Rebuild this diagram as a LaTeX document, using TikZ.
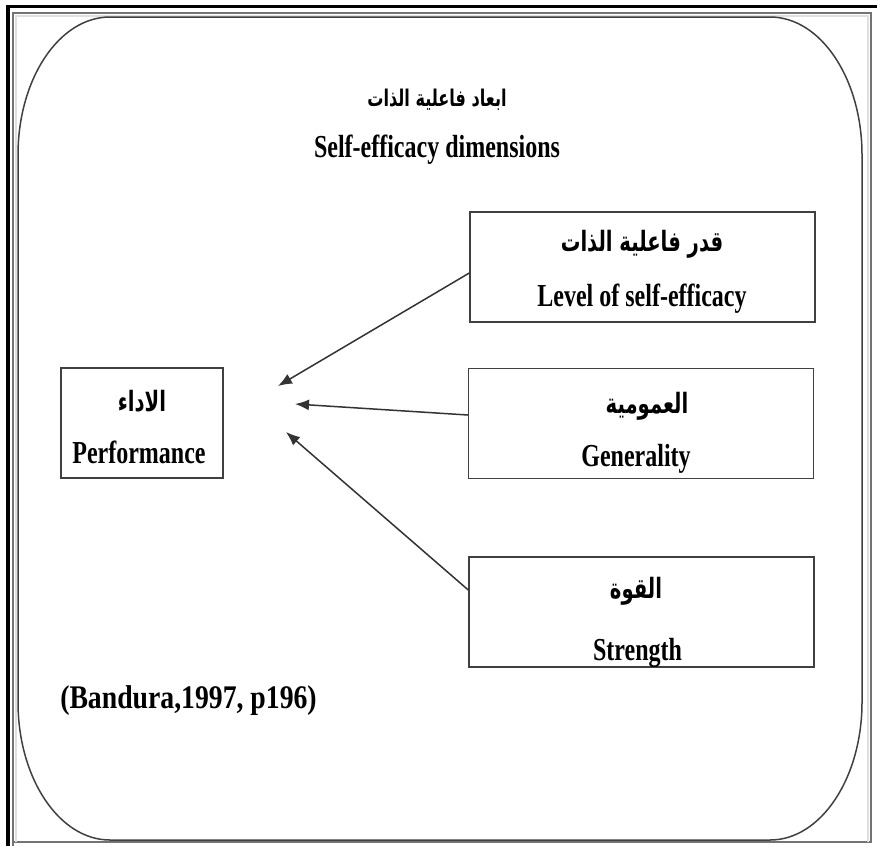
\documentclass[tikz,border=0pt]{standalone}
\usepackage{fontspec}
\setmainfont{Liberation Serif}[FakeStretch=0.75]
\newfontfamily\citefont{Liberation Serif}[FakeStretch=0.84]
\newfontfamily\arabicfont[Script=Arabic,FakeStretch=0.7]{DejaVu Sans}
\TeXXeTstate=1
\usetikzlibrary{arrows.meta}

\begin{document}
\begin{tikzpicture}[x=1pt,y=-1pt,
  dimbox/.style={draw=black!75,line width=1.4pt,minimum width=345pt,minimum height=110pt,inner sep=0pt},
  entxt/.style={font=\fontsize{32}{36}\selectfont\bfseries,anchor=base,inner sep=0pt},
  artxt/.style={font=\arabicfont\fontsize{28}{32}\selectfont\bfseries,inner sep=0pt},
  link/.style={draw=black!80,line width=1.5pt,-{Latex[length=14pt,width=11pt]}}
]
\useasboundingbox (0,0) rectangle (877,846);

% page border
\draw[black!55,line width=1.5pt] (13,846) -- (13,13) -- (871,13) -- (871,842) -- (13,842);
\draw[black!12,line width=2pt] (16,842) -- (16,16) -- (868,16) -- (868,842);
\draw[black,line width=3.5pt] (8,846) -- (8,6.5) -- (877,6.5);

% rounded frame with elliptical corners
\draw[black!75,line width=1.5pt]
  (18,155) .. controls (18,78.8) and (59.2,17) .. (110,17)
  -- (770,17) .. controls (820.8,17) and (862,78.8) .. (862,155)
  -- (862,702) .. controls (862,778.2) and (820.8,840) .. (770,840)
  -- (110,840) .. controls (59.2,840) and (18,778.2) .. (18,702) -- cycle;

% title
\node[artxt,font=\arabicfont\fontsize{23}{27}\selectfont\bfseries] (arTitle) at (437,100) {\beginR ابعاد فاعلية الذات\endR};
\node[entxt] (enTitle) at (437,157) {Self-efficacy dimensions};

% boxes
\node[dimbox] (lvl) at (642.5,267) {};
\node[dimbox] (gen) at (641,423.5) {};
\node[dimbox] (str) at (641.5,612) {};
\node[dimbox,minimum width=162pt] (perf) at (142,423) {};

% box texts
\node[artxt] (lvlAr) at (642,244) {\beginR قدر فاعلية الذات\endR};
\node[entxt] (lvlEn) at (642,306) {Level of self-efficacy};
\node[artxt] (genAr) at (647,406) {\beginR العمومية\endR};
\node[entxt] (genEn) at (636,466) {Generality};
\node[artxt] (strAr) at (636,591) {\beginR القوة\endR};
\node[entxt] (strEn) at (637.5,660) {Strength};
\node[artxt] (perfAr) at (142,401) {\beginR الاداء\endR};
\node[entxt] (perfEn) at (139,463) {Performance};

% source
\node[font=\citefont\fontsize{33}{38}\selectfont\bfseries,anchor=base,inner sep=0pt] (cite) at (188.5,708) {(Bandura,1997, p196)};

% arrow tips
\coordinate (t1) at (278,386);
\coordinate (t2) at (295,404);
\coordinate (t3) at (286,432);
\draw[link] ([yshift=-6pt]lvl.west) -- (t1);
\draw[link] ([yshift=8.5pt]gen.west) -- (t2);
\draw[link] ([yshift=22pt]str.west) -- (t3);
\end{tikzpicture}
\end{document}
